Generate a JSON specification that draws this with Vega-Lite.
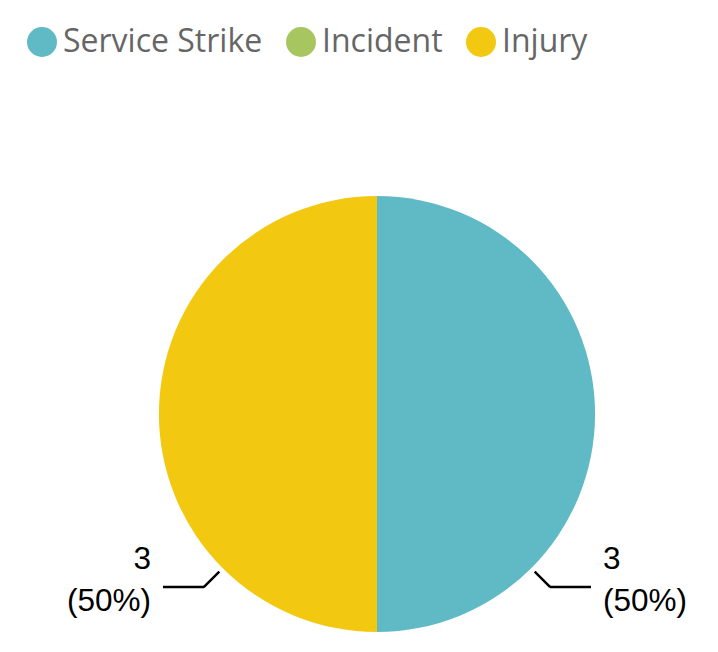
{
  "$schema": "https://vega.github.io/schema/vega-lite/v6.json",
  "width": 436,
  "height": 436,
  "autosize": {"type": "none"},
  "padding": {"left": 159, "top": 196, "right": 123, "bottom": 20},
  "background": "white",
  "config": {"view": {"stroke": null}},
  "data": {
    "values": [
      {"type": "Service Strike", "count": 3, "pct": "(50%)"},
      {"type": "Incident", "count": 0, "pct": "(0%)"},
      {"type": "Injury", "count": 3, "pct": "(50%)"}
    ]
  },
  "resolve": {"scale": {"theta": "independent"}},
  "layer": [
    {
      "mark": {"type": "arc", "outerRadius": 218},
      "encoding": {
        "theta": {"field": "count", "type": "quantitative", "stack": true},
        "order": {"field": "type", "type": "nominal", "sort": "descending"},
        "color": {
          "field": "type",
          "type": "nominal",
          "scale": {
            "domain": ["Service Strike", "Incident", "Injury"],
            "range": ["#5FBAC5", "#A8C660", "#F2C811"]
          },
          "legend": {
            "orient": "none",
            "legendX": -133,
            "legendY": -170,
            "direction": "horizontal",
            "title": null,
            "padding": 0,
            "symbolType": "circle",
            "symbolSize": 900,
            "symbolStrokeWidth": 0,
            "symbolOpacity": 1,
            "labelFont": "Open Sans",
            "labelFontSize": 32,
            "labelColor": "#666666",
            "labelOffset": 5,
            "labelLimit": 400,
            "columnPadding": 22
          }
        }
      }
    },
    {
      "transform": [
        {"filter": "datum.count > 0"},
        {"stack": "count", "groupby": [], "as": ["s0", "s1"], "sort": [{"field": "type", "order": "descending"}]}
      ],
      "mark": {"type": "arc", "radius": 245, "radius2": 223, "stroke": "#000000", "strokeWidth": 2.5, "fill": null},
      "encoding": {
        "theta": {"field": "s0", "type": "quantitative", "scale": {"range": [2.35619, 3.92699]}},
        "theta2": {"field": "s0"}
      }
    },
    {
      "transform": [
        {"filter": "datum.count > 0"},
        {"stack": "count", "groupby": [], "as": ["s0", "s1"], "sort": [{"field": "type", "order": "descending"}]}
      ],
      "mark": {"type": "arc", "radius": 214, "radius2": 173, "yOffset": 173, "stroke": "#000000", "strokeWidth": 2.5, "fill": null},
      "encoding": {
        "theta": {"field": "s0", "type": "quantitative", "scale": {"range": [1.5708, 4.71239]}},
        "theta2": {"field": "s0"}
      }
    },
    {
      "transform": [
        {"filter": "datum.count > 0"},
        {"stack": "count", "groupby": [], "as": ["s0", "s1"], "sort": [{"field": "type", "order": "descending"}]}
      ],
      "mark": {"type": "text", "radius": 226, "dy": 155, "font": "Liberation Sans", "fontSize": 31.5, "fill": "#000000", "baseline": "alphabetic", "align": {"expr": "datum.s0 > 0 ? 'right' : 'left'"}},
      "encoding": {
        "theta": {"field": "s0", "type": "quantitative", "scale": {"range": [1.5708, 4.71239]}},
        "text": {"field": "count", "type": "quantitative"}
      }
    },
    {
      "transform": [
        {"filter": "datum.count > 0"},
        {"stack": "count", "groupby": [], "as": ["s0", "s1"], "sort": [{"field": "type", "order": "descending"}]}
      ],
      "mark": {"type": "text", "radius": 226, "dy": 197, "font": "Liberation Sans", "fontSize": 31.5, "fill": "#000000", "baseline": "alphabetic", "align": {"expr": "datum.s0 > 0 ? 'right' : 'left'"}},
      "encoding": {
        "theta": {"field": "s0", "type": "quantitative", "scale": {"range": [1.5708, 4.71239]}},
        "text": {"field": "pct", "type": "nominal"}
      }
    }
  ]
}
